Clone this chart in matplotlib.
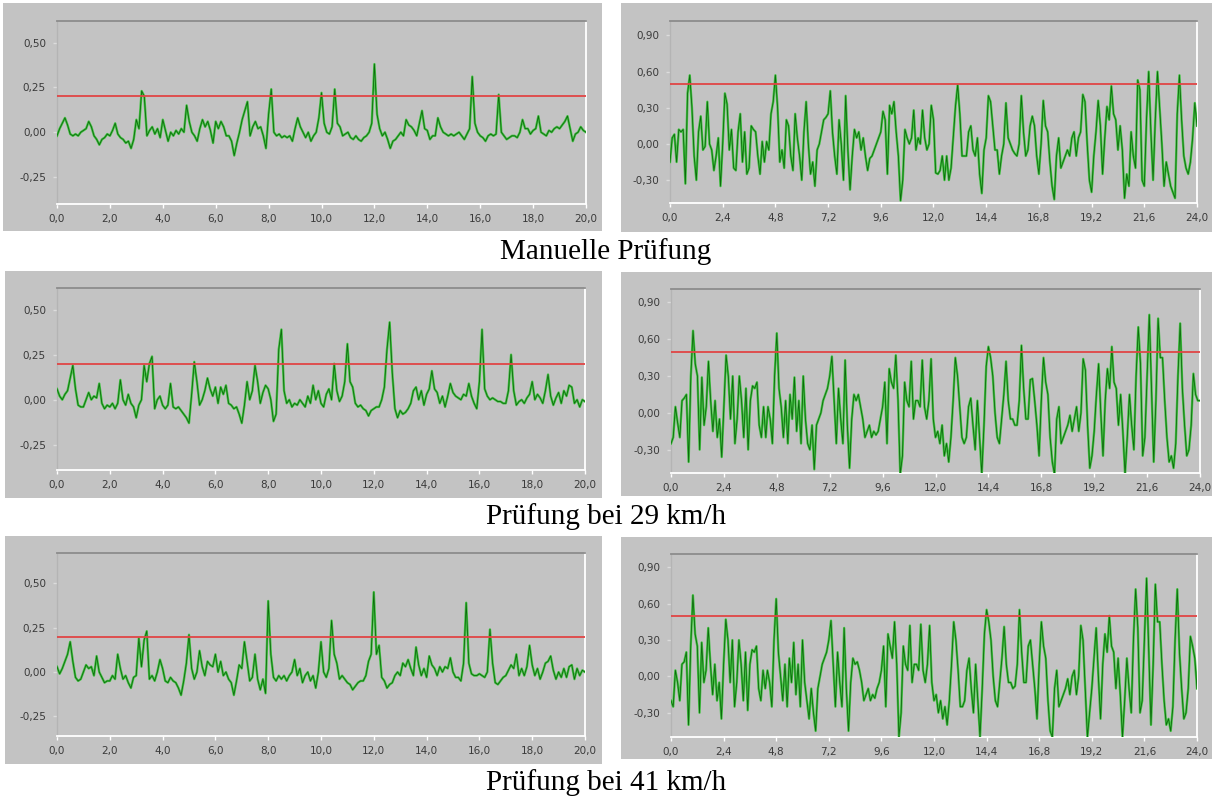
import numpy as np
import matplotlib.pyplot as plt
from matplotlib.patches import Rectangle
from matplotlib.ticker import FuncFormatter

W, H = 1213, 800
C_BG = "#c3c3c3"
C_LIGHT = "#44c444"
C_DARK = "#0d6a0d"
C_RED = "#e04545"

# sample times (s)
t_left = np.round(np.arange(0, 201) * 0.1, 2)
t_right = np.round(np.arange(0, 241) * 0.1, 2)

# thresholds
thr_left = 0.20
thr_right = 0.50

# --- Manuelle Prüfung ---
manual_left = [
    -0.02, 0.02, 0.05, 0.08, 0.04, -0.01, -0.02, -0.01, -0.02, 0.00,
    0.01, 0.02, 0.06, 0.03, -0.02, -0.04, -0.07, -0.04, -0.03, -0.01,
    -0.02, 0.01, 0.05, -0.01, -0.03, -0.04, -0.06, -0.05, -0.09, -0.04,
    0.07, 0.02, 0.23, 0.20, -0.02, 0.01, 0.03, -0.01, 0.02, -0.03,
    0.07, 0.01, -0.05, 0.00, -0.02, 0.01, -0.01, 0.02, 0.00, 0.15,
    0.06, 0.00, -0.02, -0.05, 0.02, 0.07, 0.03, 0.06, 0.01, -0.06,
    0.06, 0.02, 0.06, 0.03, -0.02, -0.02, -0.05, -0.13, -0.06, 0.00,
    0.07, 0.12, 0.17, -0.02, 0.03, 0.06, 0.02, 0.03, -0.02, -0.09,
    0.10, 0.24, 0.00, -0.02, -0.01, -0.03, -0.02, -0.03, -0.02, -0.05,
    0.02, 0.08, 0.03, 0.00, -0.03, 0.00, -0.05, -0.02, 0.00, 0.08,
    0.22, 0.05, 0.00, -0.01, 0.03, 0.24, 0.05, 0.03, -0.02, -0.01,
    0.00, -0.03, -0.04, -0.02, -0.04, -0.05, -0.03, -0.02, 0.00, 0.05,
    0.38, 0.10, 0.02, -0.02, 0.00, -0.04, -0.09, -0.05, -0.04, -0.02,
    0.00, -0.02, 0.07, 0.04, 0.03, 0.01, -0.02, 0.05, 0.12, 0.02,
    0.01, -0.04, -0.02, -0.02, 0.08, 0.03, 0.00, -0.01, -0.02, -0.01,
    -0.02, -0.01, 0.00, -0.02, -0.04, -0.01, 0.02, 0.31, 0.05, 0.00,
    -0.02, -0.03, -0.05, -0.02, -0.01, -0.02, -0.01, 0.21, 0.00, -0.02,
    -0.04, -0.03, -0.02, -0.02, -0.03, 0.00, 0.07, 0.02, 0.02, -0.01,
    0.01, 0.02, 0.09, 0.00, -0.01, -0.02, 0.01, 0.00, 0.02, 0.03,
    0.02, 0.04, 0.06, 0.09, 0.02, -0.05, -0.01, 0.00, 0.03, 0.01,
    0.00,
]
manual_right = [
    -0.15, 0.05, 0.08, -0.15, 0.12, 0.10, 0.12, -0.33, 0.42, 0.57,
    0.30, -0.10, -0.30, 0.10, 0.23, -0.05, -0.02, 0.35, 0.00, -0.05,
    -0.22, -0.10, 0.05, -0.35, 0.00, 0.42, 0.33, -0.05, 0.12, -0.20,
    -0.22, 0.10, 0.25, -0.15, 0.10, -0.25, -0.20, 0.15, 0.12, 0.10,
    -0.10, -0.25, 0.02, -0.15, 0.02, -0.05, 0.25, 0.35, 0.57, 0.30,
    -0.15, -0.05, -0.20, 0.20, 0.15, -0.10, -0.22, 0.25, 0.05, -0.10,
    -0.30, 0.10, 0.35, 0.00, -0.25, -0.15, -0.35, -0.05, 0.00, 0.10,
    0.20, 0.22, 0.25, 0.44, 0.10, -0.10, -0.25, 0.20, 0.00, -0.30,
    0.40, -0.05, -0.38, -0.10, 0.12, 0.05, 0.10, -0.05, 0.05, -0.10,
    -0.22, -0.12, -0.10, -0.05, 0.00, 0.05, 0.10, 0.27, 0.20, -0.25,
    0.32, 0.25, 0.35, 0.10, -0.10, -0.47, -0.30, 0.12, 0.05, 0.00,
    0.05, 0.28, -0.05, 0.05, 0.00, 0.28, 0.05, -0.05, 0.00, 0.32,
    0.20, -0.24, -0.25, -0.22, -0.10, -0.30, -0.10, -0.30, -0.20, 0.05,
    0.31, 0.49, 0.25, -0.10, -0.10, -0.10, 0.10, 0.15, -0.05, -0.10,
    0.05, -0.25, -0.41, -0.05, 0.05, 0.40, 0.35, 0.15, -0.05, -0.05,
    -0.25, -0.10, 0.00, 0.34, 0.05, 0.00, -0.05, -0.08, -0.10, 0.00,
    0.40, 0.10, -0.10, -0.05, 0.15, 0.23, 0.15, -0.10, -0.25, 0.00,
    0.36, 0.15, 0.10, -0.15, -0.35, -0.46, -0.10, 0.05, -0.20, -0.15,
    -0.10, -0.05, -0.10, 0.05, 0.10, -0.10, 0.05, 0.10, 0.41, 0.35,
    0.00, -0.30, -0.40, -0.10, 0.10, 0.36, 0.15, -0.25, 0.05, 0.31,
    0.20, 0.48, 0.25, 0.20, -0.05, 0.15, -0.05, -0.45, -0.25, -0.35,
    0.10, -0.10, -0.20, 0.53, 0.45, -0.30, -0.35, 0.20, 0.60, 0.10,
    -0.30, 0.20, 0.60, 0.30, 0.00, -0.35, -0.15, -0.25, -0.35, -0.40,
    -0.45, 0.25, 0.57, 0.20, -0.10, -0.20, -0.25, -0.15, 0.05, 0.34,
    0.15,
]

# --- Prüfung bei 29 km/h ---
v29_left = [
    0.06, 0.02, 0.00, 0.03, 0.05, 0.12, 0.19, 0.06, -0.03, -0.04,
    -0.04, 0.00, 0.04, 0.00, 0.02, 0.01, 0.09, -0.02, -0.05, -0.03,
    -0.04, -0.02, -0.05, -0.02, 0.11, 0.00, -0.03, 0.03, -0.02, -0.04,
    -0.10, -0.03, 0.00, 0.19, 0.10, 0.20, 0.24, -0.05, 0.00, 0.02,
    -0.03, -0.05, -0.03, 0.09, -0.04, -0.05, -0.04, -0.06, -0.08, -0.10,
    -0.13, 0.03, 0.21, 0.10, -0.03, 0.00, 0.05, 0.12, 0.06, 0.02,
    0.07, -0.02, 0.07, 0.03, 0.08, -0.02, -0.03, -0.05, -0.04, -0.08,
    -0.13, -0.03, 0.10, 0.00, 0.05, 0.19, 0.10, -0.02, 0.04, 0.08,
    0.06, 0.00, -0.12, -0.08, 0.28, 0.39, 0.05, -0.02, 0.00, -0.04,
    -0.02, -0.03, 0.00, -0.02, -0.04, 0.02, -0.02, 0.08, 0.00, 0.05,
    -0.02, -0.04, 0.03, 0.06, 0.00, 0.20, 0.05, -0.01, 0.02, 0.10,
    0.31, 0.10, 0.07, -0.02, -0.04, -0.03, -0.05, -0.06, -0.09, -0.06,
    -0.05, -0.04, -0.04, 0.00, 0.07, 0.28, 0.43, 0.15, -0.05, -0.10,
    -0.06, -0.08, -0.07, -0.05, -0.02, 0.05, 0.07, 0.00, 0.05, -0.03,
    0.03, 0.06, 0.16, 0.06, 0.04, -0.02, 0.02, -0.04, 0.02, 0.09,
    0.04, 0.02, 0.01, 0.00, 0.03, 0.02, 0.09, 0.02, -0.02, -0.05,
    0.10, 0.39, 0.06, 0.02, 0.00, 0.01, 0.00, -0.01, -0.01, -0.02,
    -0.02, 0.05, 0.25, 0.05, -0.03, -0.01, 0.00, -0.02, 0.01, 0.03,
    0.10, 0.00, 0.03, 0.01, -0.02, 0.05, 0.14, 0.02, -0.03, 0.01,
    0.04, -0.02, 0.05, 0.02, 0.08, 0.07, -0.02, 0.00, -0.04, 0.00,
    -0.01,
]
v29_right = [
    -0.25, -0.20, 0.05, -0.08, -0.20, 0.10, 0.12, 0.15, -0.40, 0.30,
    0.67, 0.40, 0.30, -0.30, 0.29, -0.10, 0.05, 0.42, 0.10, -0.15,
    0.10, -0.20, -0.05, -0.36, 0.05, 0.47, 0.30, -0.05, 0.30, -0.25,
    -0.05, 0.30, 0.10, -0.20, 0.20, -0.30, 0.10, 0.22, 0.20, 0.25,
    -0.10, -0.20, 0.05, -0.20, 0.05, -0.05, -0.25, 0.30, 0.65, 0.20,
    0.05, -0.20, 0.10, -0.25, 0.15, -0.05, 0.29, -0.15, 0.10, -0.25,
    0.30, -0.05, -0.25, -0.30, -0.10, -0.46, -0.10, -0.05, 0.00, 0.10,
    0.15, 0.20, 0.30, 0.46, 0.10, -0.25, 0.20, -0.05, -0.25, 0.43,
    -0.10, -0.45, -0.05, 0.15, 0.10, 0.15, 0.05, -0.05, -0.20, -0.15,
    -0.10, -0.20, -0.15, -0.18, -0.15, -0.05, 0.05, 0.25, -0.25, 0.36,
    0.25, 0.20, 0.47, 0.10, -0.50, -0.35, 0.25, 0.10, 0.05, 0.42,
    -0.05, 0.10, 0.10, 0.05, 0.43, 0.05, -0.05, 0.10, 0.44, -0.05,
    -0.20, -0.15, -0.25, -0.10, -0.35, -0.25, -0.40, -0.20, 0.10, 0.45,
    0.30, 0.05, -0.20, -0.25, -0.20, 0.05, 0.12, -0.10, -0.30, 0.10,
    -0.20, -0.50, -0.10, 0.38, 0.54, 0.45, 0.30, 0.00, -0.20, -0.25,
    -0.05, 0.15, 0.42, 0.10, -0.05, -0.05, -0.10, -0.10, 0.10, 0.55,
    0.20, -0.05, -0.05, 0.27, 0.28, 0.10, -0.10, -0.35, 0.10, 0.45,
    0.25, 0.15, -0.20, -0.40, -0.50, -0.05, 0.05, -0.25, -0.20, -0.15,
    -0.10, -0.02, -0.15, -0.05, 0.05, -0.15, 0.00, 0.44, 0.35, -0.10,
    -0.45, -0.35, -0.15, 0.15, 0.40, 0.00, -0.35, 0.10, 0.36, 0.20,
    0.54, 0.25, 0.20, -0.10, 0.15, -0.15, -0.50, -0.20, 0.15, -0.10,
    -0.30, 0.30, 0.70, 0.40, -0.35, -0.20, 0.30, 0.80, 0.20, -0.40,
    0.10, 0.77, 0.45, 0.45, 0.10, -0.20, -0.40, -0.35, -0.45, -0.25,
    0.30, 0.73, 0.20, -0.10, -0.35, -0.30, -0.10, 0.32, 0.15, 0.10,
    0.10,
]

# --- Prüfung bei 41 km/h ---
v41_left = [
    0.03, -0.01, 0.02, 0.06, 0.10, 0.17, 0.06, -0.03, -0.05, -0.04,
    0.00, 0.04, 0.02, 0.03, -0.02, 0.09, 0.00, -0.03, -0.06, -0.05,
    -0.05, -0.02, -0.04, 0.10, 0.02, -0.04, -0.02, -0.06, -0.09, -0.03,
    -0.02, 0.19, 0.03, 0.18, 0.23, -0.04, -0.02, -0.05, 0.00, 0.07,
    0.02, -0.05, -0.06, -0.03, -0.05, -0.06, -0.09, -0.13, -0.05, 0.05,
    0.21, 0.02, -0.04, 0.00, 0.12, 0.03, -0.02, 0.06, 0.04, 0.03,
    0.10, 0.00, 0.06, -0.02, 0.00, -0.04, -0.06, -0.13, -0.05, 0.04,
    0.02, 0.17, 0.06, -0.05, -0.03, 0.10, -0.04, -0.10, -0.04, -0.12,
    0.40, 0.10, -0.03, -0.05, -0.02, -0.04, -0.02, -0.05, -0.02, 0.00,
    0.07, -0.02, 0.02, -0.06, -0.02, 0.00, -0.05, -0.02, -0.09, 0.00,
    0.17, 0.00, -0.03, 0.02, 0.29, 0.10, 0.05, -0.04, -0.02, -0.04,
    -0.06, -0.07, -0.10, -0.08, -0.06, -0.05, -0.05, -0.02, 0.06, 0.10,
    0.45, 0.10, 0.15, -0.03, -0.05, -0.09, -0.07, -0.06, -0.02, 0.00,
    -0.02, 0.05, 0.03, 0.07, 0.02, -0.02, 0.14, 0.04, -0.02, 0.02,
    -0.03, 0.09, 0.04, 0.02, -0.02, 0.03, 0.00, 0.03, 0.02, 0.08,
    0.00, -0.03, -0.03, -0.05, 0.05, 0.39, 0.05, -0.01, -0.02, -0.02,
    -0.01, -0.02, -0.03, 0.00, 0.24, 0.05, -0.06, -0.07, -0.05, -0.03,
    -0.02, 0.01, 0.04, 0.02, 0.10, -0.02, 0.02, -0.02, 0.03, 0.15,
    0.04, -0.02, 0.02, -0.04, 0.00, 0.05, 0.06, 0.09, 0.01, -0.04,
    0.00, -0.03, 0.02, -0.03, 0.03, 0.04, -0.04, 0.02, -0.02, 0.01,
    0.00,
]
v41_right = [
    -0.20, -0.25, 0.05, -0.05, -0.20, 0.10, 0.12, 0.20, -0.40, 0.25,
    0.67, 0.35, 0.25, -0.30, 0.28, -0.05, 0.05, 0.40, 0.10, -0.15,
    0.10, -0.20, -0.05, -0.35, 0.10, 0.47, 0.30, -0.05, 0.30, -0.25,
    -0.05, 0.30, 0.10, -0.20, 0.20, -0.28, 0.10, 0.22, 0.20, 0.25,
    -0.10, -0.20, 0.05, -0.10, 0.05, -0.05, -0.25, 0.30, 0.64, 0.20,
    0.00, -0.20, 0.10, -0.25, 0.15, -0.05, 0.28, -0.15, 0.10, -0.25,
    0.30, -0.05, -0.20, -0.35, -0.10, -0.30, -0.45, -0.10, 0.00, 0.10,
    0.15, 0.20, 0.30, 0.46, 0.10, -0.25, 0.20, -0.05, -0.25, 0.40,
    -0.10, -0.45, -0.05, 0.15, 0.10, 0.12, 0.05, -0.05, -0.20, -0.15,
    -0.10, -0.20, -0.15, -0.18, -0.10, -0.05, 0.05, 0.25, -0.25, 0.35,
    0.25, 0.15, 0.45, 0.10, -0.50, -0.30, 0.25, 0.10, 0.05, 0.42,
    -0.05, 0.10, 0.10, 0.05, 0.43, 0.05, -0.05, 0.10, 0.42, -0.05,
    -0.20, -0.15, -0.30, -0.20, -0.35, -0.25, -0.40, -0.20, 0.10, 0.45,
    0.30, 0.05, -0.25, -0.25, -0.20, 0.05, 0.15, -0.10, -0.30, 0.10,
    -0.20, -0.50, -0.10, 0.35, 0.55, 0.45, 0.30, 0.00, -0.20, -0.25,
    -0.05, 0.15, 0.41, 0.10, -0.05, -0.05, -0.10, -0.08, 0.10, 0.55,
    0.20, -0.05, -0.05, 0.25, 0.30, 0.10, -0.10, -0.35, 0.10, 0.45,
    0.25, 0.15, -0.20, -0.45, -0.50, -0.10, 0.05, -0.25, -0.20, -0.15,
    -0.10, -0.02, -0.15, 0.00, 0.05, -0.15, 0.00, 0.42, 0.30, -0.10,
    -0.50, -0.30, -0.10, 0.15, 0.40, 0.00, -0.35, 0.10, 0.35, 0.20,
    0.50, 0.25, 0.20, -0.10, 0.15, -0.15, -0.50, -0.20, 0.15, -0.10,
    -0.30, 0.30, 0.72, 0.40, -0.30, -0.20, 0.30, 0.81, 0.20, -0.40,
    0.10, 0.76, 0.45, 0.45, 0.10, -0.20, -0.40, -0.35, -0.45, -0.25,
    0.30, 0.72, 0.20, -0.10, -0.35, -0.30, -0.10, 0.33, 0.25, 0.15,
    -0.10,
]

captions = ["Manuelle Prüfung", "Prüfung bei 29 km/h", "Prüfung bei 41 km/h"]
xticks_left = [0, 2, 4, 6, 8, 10, 12, 14, 16, 18, 20]
xticks_right = [0, 2.4, 4.8, 7.2, 9.6, 12.0, 14.4, 16.8, 19.2, 21.6, 24.0]
yticks_left = [-0.25, 0.0, 0.25, 0.50]
yticks_right = [-0.30, 0.0, 0.30, 0.60, 0.90]


def frac(x0, y0, x1, y1):
    # pixel box (top-left origin) -> figure fraction rect
    return [x0 / W, 1 - y1 / H, (x1 - x0) / W, (y1 - y0) / H]


fmt1 = FuncFormatter(lambda v, p: f"{v:.1f}".replace(".", ","))
fmt2 = FuncFormatter(lambda v, p: f"{v:.2f}".replace(".", ","))

fig = plt.figure(figsize=(W / 100, H / 100), dpi=100)
fig.patch.set_facecolor("white")

# (gray panel box, axes box, t, y, ylim, side)
panels = [
    ((3, 3, 602, 231), (57, 21, 586, 204), t_left, manual_left, (-0.40, 0.62), "L"),
    ((621, 3, 1212, 232), (670, 21, 1197, 203), t_right, manual_right, (-0.49, 1.02), "R"),
    ((5, 271, 602, 498), (57, 288, 585, 470), t_left, v29_left, (-0.39, 0.62), "L"),
    ((621, 272, 1212, 496), (671, 289, 1200, 473), t_right, v29_right, (-0.49, 1.01), "R"),
    ((5, 536, 602, 764), (57, 553, 585, 736), t_left, v41_left, (-0.36, 0.67), "L"),
    ((621, 537, 1212, 759), (671, 554, 1197, 737), t_right, v41_right, (-0.50, 1.01), "R"),
]

for gbox, abox, tt, yy, ylim, side in panels:
    x0, y0, x1, y1 = gbox
    fig.add_artist(Rectangle((x0 / W, 1 - y1 / H), (x1 - x0) / W, (y1 - y0) / H,
                             transform=fig.transFigure, facecolor=C_BG,
                             edgecolor="none", zorder=0))
    ax = fig.add_axes(frac(*abox))
    ax.set_facecolor(C_BG)
    # light green body with a thin dark green core
    ax.plot(tt, yy, color=C_LIGHT, lw=1.7, zorder=3)
    ax.plot(tt, yy, color=C_DARK, lw=0.6, zorder=4)
    if side == "L":
        ax.axhline(thr_left, color=C_RED, lw=1.3, zorder=5)
        ax.set_xlim(0, 20)
        ax.set_xticks(xticks_left)
        ax.set_yticks(yticks_left)
    else:
        ax.axhline(thr_right, color=C_RED, lw=1.3, zorder=5)
        ax.set_xlim(0, 24)
        ax.set_xticks(xticks_right)
        ax.set_yticks(yticks_right)
    ax.set_ylim(*ylim)
    ax.xaxis.set_major_formatter(fmt1)
    ax.yaxis.set_major_formatter(fmt2)
    ax.tick_params(axis="x", direction="out", length=3, width=1, color="white",
                   labelsize=7.5, labelcolor="#3a3a3a", pad=4)
    ax.tick_params(axis="y", direction="out", length=3, width=1, color="#dcdcdc",
                   labelsize=7.5, labelcolor="#3a3a3a", pad=5)
    ax.spines["top"].set_color("#8c8c8c")
    ax.spines["top"].set_linewidth(1.3)
    ax.spines["left"].set_color("#b4b4b4")
    ax.spines["left"].set_linewidth(1.0)
    ax.spines["bottom"].set_color("white")
    ax.spines["bottom"].set_linewidth(1.3)
    ax.spines["right"].set_color("white")
    ax.spines["right"].set_linewidth(1.3)

for text, yc in zip(captions, [252, 517, 783]):
    fig.text(606 / W, 1 - yc / H, text, ha="center", va="center",
             fontsize=21, family="Liberation Serif", color="black")

fig.savefig("out.png", dpi=100)
